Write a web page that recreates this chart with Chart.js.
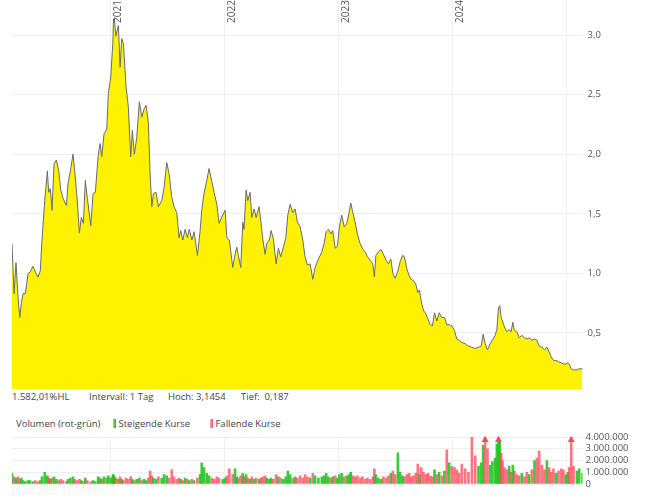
<!DOCTYPE html>
<html lang="de">
<head>
<meta charset="utf-8">
<title>Kursverlauf mit Volumen</title>
<script src="https://cdn.jsdelivr.net/npm/chart.js@4/dist/chart.umd.min.js"></script>
<style>
  body { margin: 0; background: #fff; font-family: "Open Sans", sans-serif; }
  #wrap { position: relative; width: 669px; height: 500px; overflow: hidden; }
  canvas { position: absolute; left: 0; }
  .txt { position: absolute; font-size: 9.5px; line-height: 12px; color: #444; white-space: pre; }
  .mark { display: inline-block; width: 3px; height: 9px; vertical-align: -1px; }
  .up { background: linear-gradient(to right, #8ee88e, #12b812); }
  .down { background: linear-gradient(to right, #ffb3bc, #ff4257); }
</style>
</head>
<body>
<div id="wrap">
  <canvas id="priceChart" width="669" height="389" style="top:0"></canvas>

  <div class="txt" style="left:12px; top:391px">1.582,01%HL</div>
  <div class="txt" style="left:89px; top:391px">Intervall: 1 Tag</div>
  <div class="txt" style="left:168px; top:391px">Hoch: 3,1454</div>
  <div class="txt" style="left:241px; top:391px">Tief:  0,187</div>

  <div class="txt" style="left:16px; top:418px">Volumen (rot-grün)</div>
  <div class="txt" style="left:113px; top:418px"><span class="mark up"></span> Steigende Kurse</div>
  <div class="txt" style="left:210px; top:418px"><span class="mark down"></span> Fallende Kurse</div>

  <canvas id="volumeChart" width="669" height="60" style="top:430px"></canvas>
  <div class="txt" style="left:10px; top:485px; color:#f0f0f0">20.02.2025 17:55 Uhr</div>
</div>

<script>
// Zeitpunkte als Dezimaljahr, Kurs in EUR, Volumen in Mio. Stück
const dates = [
  2020.134, 2020.152, 2020.169, 2020.187, 2020.202, 2020.216, 2020.231, 2020.251, 2020.275, 2020.292,
  2020.318, 2020.339, 2020.362, 2020.382, 2020.397, 2020.421, 2020.444, 2020.456, 2020.470, 2020.485,
  2020.503, 2020.523, 2020.544, 2020.561, 2020.582, 2020.611, 2020.625, 2020.646, 2020.669, 2020.684,
  2020.704, 2020.725, 2020.742, 2020.760, 2020.777, 2020.795, 2020.825, 2020.845, 2020.865, 2020.889,
  2020.906, 2020.921, 2020.941, 2020.965, 2020.979, 2021.000, 2021.018, 2021.023, 2021.032, 2021.044,
  2021.067, 2021.082, 2021.096, 2021.111, 2021.134, 2021.154, 2021.175, 2021.189, 2021.207, 2021.228,
  2021.251, 2021.272, 2021.292, 2021.310, 2021.330, 2021.345, 2021.360, 2021.374, 2021.397, 2021.418,
  2021.447, 2021.468, 2021.491, 2021.511, 2021.535, 2021.555, 2021.579, 2021.599, 2021.614, 2021.632,
  2021.652, 2021.672, 2021.689, 2021.711, 2021.731, 2021.760, 2021.783, 2021.798, 2021.818, 2021.842,
  2021.862, 2021.886, 2021.906, 2021.930, 2021.950, 2021.982, 2022.003, 2022.018, 2022.040, 2022.070,
  2022.090, 2022.105, 2022.119, 2022.140, 2022.158, 2022.169, 2022.187, 2022.202, 2022.222, 2022.237,
  2022.257, 2022.275, 2022.301, 2022.316, 2022.333, 2022.354, 2022.368, 2022.391, 2022.406, 2022.426,
  2022.450, 2022.470, 2022.491, 2022.514, 2022.535, 2022.553, 2022.573, 2022.596, 2022.617, 2022.637,
  2022.661, 2022.684, 2022.704, 2022.725, 2022.748, 2022.772, 2022.792, 2022.821, 2022.851, 2022.871,
  2022.889, 2022.909, 2022.930, 2022.947, 2022.968, 2022.988, 2023.005, 2023.026, 2023.047, 2023.070,
  2023.090, 2023.105, 2023.123, 2023.143, 2023.163, 2023.187, 2023.207, 2023.231, 2023.251, 2023.275,
  2023.298, 2023.312, 2023.325, 2023.347, 2023.371, 2023.391, 2023.415, 2023.435, 2023.456, 2023.474,
  2023.494, 2023.518, 2023.538, 2023.558, 2023.575, 2023.596, 2023.617, 2023.634, 2023.654, 2023.675,
  2023.693, 2023.707, 2023.722, 2023.742, 2023.763, 2023.781, 2023.801, 2023.821, 2023.839, 2023.860,
  2023.880, 2023.904, 2023.926, 2023.947, 2023.968, 2023.991, 2024.014, 2024.035, 2024.055, 2024.079,
  2024.108, 2024.137, 2024.167, 2024.196, 2024.225, 2024.248, 2024.266, 2024.283, 2024.304, 2024.327,
  2024.347, 2024.371, 2024.386, 2024.400, 2024.412, 2024.424, 2024.435, 2024.453, 2024.474, 2024.494,
  2024.511, 2024.526, 2024.540, 2024.561, 2024.582, 2024.605, 2024.628, 2024.649, 2024.669, 2024.693,
  2024.716, 2024.737, 2024.757, 2024.781, 2024.804, 2024.825, 2024.845, 2024.862, 2024.882, 2024.904,
  2024.926, 2024.950, 2024.970, 2024.991, 2025.009, 2025.020, 2025.038, 2025.058, 2025.088, 2025.108,
  2025.137
];

const prices = [
  1.25, 0.83, 1.09, 0.80, 0.63, 0.75, 0.83, 0.83, 1.00, 1.01,
  1.06, 1.01, 0.97, 1.02, 1.28, 1.61, 1.86, 1.68, 1.71, 1.53,
  1.92, 1.95, 1.86, 1.70, 1.63, 1.57, 1.75, 1.86, 2.00, 1.86,
  1.64, 1.34, 1.47, 1.42, 1.78, 1.63, 1.40, 1.67, 1.68, 1.98,
  2.09, 1.98, 2.17, 2.21, 2.51, 2.65, 2.93, 3.10, 3.145, 2.99,
  3.08, 2.73, 2.97, 2.93, 2.57, 2.40, 1.98, 2.20, 2.00, 2.14,
  2.44, 2.31, 2.38, 2.41, 2.26, 1.84, 1.56, 1.67, 1.68, 1.56,
  1.61, 1.72, 1.93, 1.84, 1.64, 1.56, 1.51, 1.30, 1.36, 1.28,
  1.37, 1.30, 1.37, 1.28, 1.35, 1.15, 1.35, 1.53, 1.67, 1.78,
  1.88, 1.77, 1.68, 1.58, 1.42, 1.49, 1.53, 1.30, 1.28, 1.05,
  1.16, 1.22, 1.15, 1.05, 1.43, 1.37, 1.70, 1.61, 1.68, 1.47,
  1.54, 1.47, 1.56, 1.44, 1.29, 1.16, 1.25, 1.28, 1.36, 1.29,
  1.08, 1.21, 1.14, 1.22, 1.30, 1.49, 1.58, 1.51, 1.54, 1.43,
  1.39, 1.28, 1.14, 1.07, 1.08, 0.95, 1.05, 1.12, 1.18, 1.25,
  1.35, 1.37, 1.33, 1.36, 1.21, 1.23, 1.39, 1.49, 1.39, 1.42,
  1.51, 1.59, 1.51, 1.43, 1.33, 1.25, 1.21, 1.18, 1.14, 1.11,
  1.08, 0.97, 1.15, 1.18, 1.20, 1.16, 1.11, 1.08, 1.12, 1.00,
  0.96, 1.02, 1.10, 1.15, 1.14, 1.04, 0.98, 0.95, 0.94, 0.91,
  0.84, 0.86, 0.77, 0.69, 0.66, 0.62, 0.57, 0.56, 0.67, 0.60,
  0.67, 0.63, 0.63, 0.57, 0.57, 0.56, 0.52, 0.45, 0.44, 0.42,
  0.41, 0.39, 0.38, 0.37, 0.38, 0.39, 0.49, 0.41, 0.36, 0.41,
  0.44, 0.48, 0.53, 0.71, 0.73, 0.63, 0.60, 0.55, 0.51, 0.53,
  0.51, 0.59, 0.52, 0.51, 0.46, 0.48, 0.46, 0.45, 0.46, 0.44,
  0.45, 0.44, 0.39, 0.38, 0.36, 0.38, 0.34, 0.30, 0.27, 0.27,
  0.26, 0.25, 0.24, 0.24, 0.25, 0.24, 0.20, 0.19, 0.19, 0.20,
  0.20
];

const volumesMio = [
  0.9, 0.6, 0.5, 0.6, 0.4, 0.5, 0.3, 0.2, 0.3, 0.3,
  0.2, 0.3, 0.2, 0.3, 0.6, 1.0, 0.7, 0.5, 0.4, 0.5,
  0.6, 0.4, 0.3, 0.4, 0.3, 0.2, 0.4, 0.5, 0.6, 0.4,
  0.3, 0.4, 0.3, 0.2, 0.5, 0.3, 0.2, 0.3, 0.2, 0.6,
  0.5, 0.4, 0.6, 0.5, 0.7, 0.5, 0.7, 0.8, 0.6, 0.5,
  0.4, 0.6, 0.4, 0.3, 0.5, 0.4, 0.6, 0.4, 0.3, 0.4,
  0.5, 0.3, 0.4, 0.3, 0.5, 1.1, 0.7, 0.5, 0.4, 0.6,
  0.5, 0.8, 0.7, 0.5, 1.2, 0.6, 0.4, 0.5, 0.4, 0.3,
  0.5, 0.4, 0.3, 0.4, 0.3, 0.5, 0.8, 1.8, 1.4, 0.9,
  0.7, 0.5, 0.4, 0.6, 0.5, 0.4, 0.5, 0.7, 1.3, 0.8,
  1.3, 0.6, 0.5, 0.7, 0.9, 0.6, 0.8, 0.5, 0.4, 0.6,
  0.4, 0.5, 0.4, 0.5, 0.6, 0.7, 0.5, 0.4, 0.5, 0.4,
  0.8, 0.6, 0.5, 0.4, 0.6, 1.1, 0.8, 0.5, 0.6, 0.5,
  0.7, 0.5, 0.8, 0.6, 0.5, 0.9, 0.7, 0.5, 0.6, 0.7,
  0.9, 0.6, 0.5, 0.6, 0.7, 0.5, 0.8, 0.9, 0.6, 0.7,
  0.8, 1.0, 0.7, 0.6, 0.7, 0.5, 0.6, 0.4, 0.5, 0.4,
  0.6, 1.3, 0.8, 0.5, 0.4, 0.6, 0.5, 0.7, 0.9, 1.1,
  0.8, 2.65, 1.0, 0.7, 0.6, 0.8, 0.9, 0.6, 0.7, 0.9,
  1.7, 0.8, 1.4, 1.0, 0.8, 0.9, 0.7, 0.6, 1.2, 0.8,
  1.0, 0.7, 1.1, 2.9, 1.8, 1.5, 1.4, 1.2, 0.9, 1.7,
  1.3, 1.0, 4.0, 2.4, 1.5, 1.8, 3.3, 4.6, 3.0, 1.6,
  1.9, 2.2, 3.4, 4.8, 3.6, 2.6, 2.0, 1.4, 1.2, 1.5,
  1.0, 1.6, 1.1, 0.8, 0.7, 0.9, 0.6, 1.0, 0.8, 1.2,
  2.0, 2.2, 2.8, 1.6, 1.2, 2.0, 1.4, 1.0, 1.3, 0.9,
  1.1, 1.3, 1.2, 0.8, 1.0, 1.4, 5.0, 1.5, 1.1, 1.3,
  0.9
];

const yearTicks = [2021, 2022, 2023, 2024, 2025];
const yearLabels = [2021, 2022, 2023, 2024];
const priceTicks = [0.5, 1.0, 1.5, 2.0, 2.5, 3.0];
const volumeTicks = [0, 1000000, 2000000, 3000000, 4000000];

const xMin = 2020.134, xMax = 2025.137;
const priceMin = 0.03, priceMax = 3.294;
const volumeMax = 4000000;

const FONT = { family: '"Open Sans", sans-serif', size: 9.5 };
const GRID = '#efefef';
const UP = 'rgba(25, 195, 25, 0.85)';
const DOWN = 'rgba(255, 70, 90, 0.75)';

function deNumber(v) {
  return String(v).replace(/\B(?=(\d{3})+(?!\d))/g, '.');
}

function timeAxis() {
  return {
    type: 'linear',
    min: xMin,
    max: xMax,
    offset: false,
    afterBuildTicks: s => { s.ticks = yearTicks.map(v => ({ value: v })); },
    ticks: { display: false },
    grid: { color: GRID, drawTicks: false, offset: false },
    border: { display: false },
    afterFit: s => { s.height = 0; s.paddingLeft = 0; s.paddingRight = 0; }
  };
}

// Jahreszahlen senkrecht an den Gitterlinien
const yearLabelPlugin = {
  id: 'yearLabels',
  afterDatasetsDraw(chart) {
    const { ctx, scales: { x } } = chart;
    ctx.save();
    ctx.font = '10px "Open Sans", sans-serif';
    ctx.fillStyle = '#555';
    ctx.textAlign = 'left';
    ctx.textBaseline = 'top';
    yearLabels.forEach(y => {
      const px = x.getPixelForValue(y);
      ctx.save();
      ctx.translate(px + 2, 23);
      ctx.rotate(-Math.PI / 2);
      ctx.fillText(String(y), 0, 0);
      ctx.restore();
    });
    ctx.restore();
  }
};

// Pfeile fuer Balken oberhalb der Skala
const clipArrowPlugin = {
  id: 'clipArrows',
  afterDatasetsDraw(chart) {
    const { ctx, chartArea, scales: { x } } = chart;
    ctx.save();
    ctx.fillStyle = '#ff4a5c';
    volumesMio.forEach((v, i) => {
      if (v * 1e6 <= volumeMax) return;
      const px = x.getPixelForValue(dates[i]);
      ctx.beginPath();
      ctx.moveTo(px, chartArea.top - 1);
      ctx.lineTo(px - 3.5, chartArea.top + 5);
      ctx.lineTo(px + 3.5, chartArea.top + 5);
      ctx.closePath();
      ctx.fill();
    });
    ctx.restore();
  }
};

new Chart(document.getElementById('priceChart'), {
  type: 'line',
  data: {
    datasets: [{
      data: dates.map((t, i) => ({ x: t, y: prices[i] })),
      borderColor: '#676b70',
      borderWidth: 1,
      backgroundColor: '#fff200',
      fill: 'start',
      pointRadius: 0,
      tension: 0
    }]
  },
  options: {
    responsive: false,
    animation: false,
    layout: { padding: { left: 12, top: 0, right: 0, bottom: 0 } },
    plugins: { legend: { display: false }, tooltip: { enabled: false } },
    scales: {
      x: timeAxis(),
      y: {
        position: 'right',
        min: priceMin,
        max: priceMax,
        afterBuildTicks: s => { s.ticks = priceTicks.map(v => ({ value: v })); },
        ticks: {
          padding: 5,
          font: FONT,
          color: '#555',
          callback: v => v.toFixed(1).replace('.', ',')
        },
        grid: { color: GRID, drawTicks: false },
        border: { display: false },
        afterFit: s => { s.width = 86.5; s.paddingTop = 0; s.paddingBottom = 0; }
      }
    }
  },
  plugins: [yearLabelPlugin]
});

new Chart(document.getElementById('volumeChart'), {
  type: 'bar',
  data: {
    datasets: [{
      data: dates.map((t, i) => ({ x: t, y: volumesMio[i] * 1e6 })),
      backgroundColor: prices.map((p, i) => (i === 0 || p >= prices[i - 1]) ? UP : DOWN),
      barThickness: 2,
      borderWidth: 0
    }]
  },
  options: {
    responsive: false,
    animation: false,
    layout: { padding: { left: 12, top: 7, right: 0, bottom: 6 } },
    plugins: { legend: { display: false }, tooltip: { enabled: false } },
    scales: {
      x: timeAxis(),
      y: {
        position: 'right',
        min: 0,
        max: volumeMax,
        afterBuildTicks: s => { s.ticks = volumeTicks.map(v => ({ value: v })); },
        ticks: {
          padding: 3,
          autoSkip: false,
          font: FONT,
          color: '#555',
          callback: v => deNumber(v)
        },
        grid: { color: GRID, drawTicks: false },
        border: { display: false },
        afterFit: s => { s.width = 86.5; s.paddingTop = 0; s.paddingBottom = 0; }
      }
    }
  },
  plugins: [clipArrowPlugin]
});
</script>
</body>
</html>
